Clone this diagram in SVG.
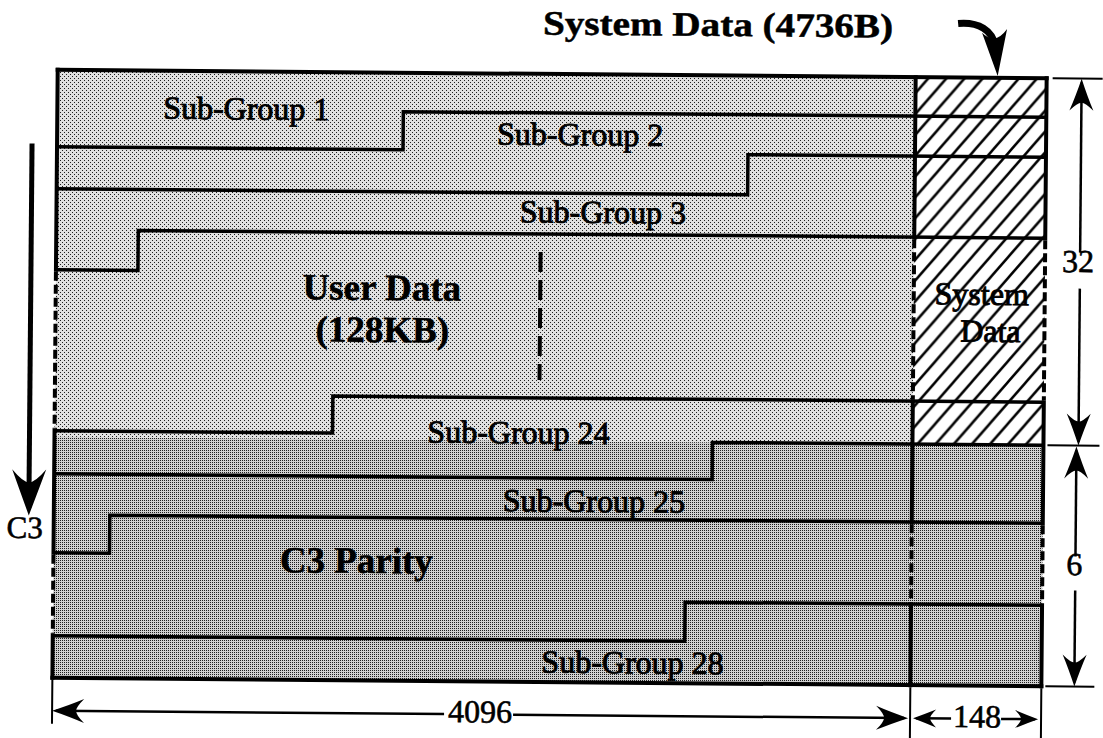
<svg xmlns="http://www.w3.org/2000/svg" width="1103" height="738" viewBox="0 0 1103 738">
<defs>
<style>
.o{fill:none;stroke:#000;stroke-width:4;stroke-linecap:square}
.r{fill:none;stroke:#000;stroke-width:3.5;stroke-linejoin:miter}
.dl{fill:none;stroke:#000;stroke-width:4;stroke-dasharray:9 4}
.dim{fill:none;stroke:#000;stroke-width:2.5}
.ext{fill:none;stroke:#000;stroke-width:2}
.sg{font-family:"Liberation Serif","Times New Roman",serif;font-size:32px;fill:#000;stroke:#000;stroke-width:0.9;text-anchor:middle}
.bt{font-family:"Liberation Serif","Times New Roman",serif;font-weight:bold;font-size:37px;fill:#000;stroke:#000;stroke-width:0.5;text-anchor:middle}
.num{font-family:"Liberation Serif","Times New Roman",serif;font-size:32px;fill:#000;stroke:#000;stroke-width:0.6;text-anchor:middle}
</style>
<pattern id="lt" patternUnits="userSpaceOnUse" width="4" height="4" patternTransform="rotate(-0.5 550 380)">
<rect width="4" height="4" fill="#e0e0e0"/><rect width="1" height="1" fill="#1e1e1e"/><rect x="2" y="2" width="1" height="1" fill="#1e1e1e"/>
</pattern>
<pattern id="dk" patternUnits="userSpaceOnUse" width="2" height="2" patternTransform="rotate(-0.5 550 380)">
<rect width="2" height="2" fill="#d0d0d0"/><rect width="1" height="1" fill="#1e1e1e"/>
</pattern>
<pattern id="hatch" patternUnits="userSpaceOnUse" width="18" height="21">
<rect width="18" height="21" fill="#fff"/>
<path d="M0,21 L18,0 M-3,3.5 L3,-3.5 M15,24.5 L21,17.5" stroke="#000" stroke-width="2.5"/>
</pattern>
<marker id="ah" markerUnits="userSpaceOnUse" markerWidth="40" markerHeight="30" refX="28" refY="12" orient="auto" overflow="visible"><path d="M32,12 Q14,6 0,0 Q8,8 8,12 Q8,16 0,24 Q14,18 32,12 Z" fill="#000"/></marker>
<marker id="ahs" markerUnits="userSpaceOnUse" markerWidth="30" markerHeight="24" refX="20" refY="9" orient="auto" overflow="visible"><path d="M23,9 Q11,4.5 0,0 Q6,6 6,9 Q6,12 0,18 Q11,13.5 23,9 Z" fill="#000"/></marker>
<marker id="ahb" markerUnits="userSpaceOnUse" markerWidth="50" markerHeight="40" refX="38" refY="17" orient="auto" overflow="visible"><path d="M46,17 Q22,8 0,0 Q13,11 13,17 Q13,23 0,34 Q22,26 46,17 Z" fill="#000"/></marker>
</defs>
<rect width="1103" height="738" fill="#fff"/>
<g transform="rotate(0.5 550 380)">
<g id="user-data">
<rect x="55" y="74" width="858" height="367" fill="url(#lt)"/>
<text class="bt" x="381" y="301.5">User Data</text>
<text class="bt" x="382" y="343.5">(128KB)</text>
<line class="dl" x1="539.5" y1="252" x2="539.5" y2="380" style="stroke-dasharray:20 8"/>
</g>
<g id="system-data">
<rect x="913" y="74" width="131" height="367" fill="url(#hatch)"/>
<text class="sg" x="981" y="301">System</text>
<text class="sg" x="990" y="338">Data</text>
</g>
<g id="c3-parity">
<rect x="55" y="441" width="989" height="241" fill="url(#dk)"/>
<text class="bt" x="358" y="574.5">C3 Parity</text>
</g>
<g id="frame">
<path class="o" d="M55,74 H1044"/>
<path class="o" d="M55,682 H1044"/>
<path class="o" d="M55,74 V274 M55,435 V557 M55,640 V682"/>
<path class="dl" d="M55,276 V433 M55,559 V638"/>
<path class="o" d="M913,74 V234 M913,398 V519 M913,601 V682"/>
<path class="dl" d="M913,236 V396 M913,521 V599"/>
<path class="o" d="M1044,74 V234 M1044,398 V519 M1044,601 V682"/>
<path class="dl" d="M1044,236 V396 M1044,521 V599"/>
</g>
<g id="sub-group-1"><path class="r" d="M55,151 H401 V113 H1044"/><text class="sg" x="244" y="122">Sub-Group 1</text></g>
<g id="sub-group-2"><path class="r" d="M55,193 H746 V153 H1044"/><text class="sg" x="578" y="145">Sub-Group 2</text></g>
<g id="sub-group-3"><path class="r" d="M55,274 H137 V234 H1044"/><text class="sg" x="601.5" y="222.5">Sub-Group 3</text></g>
<g id="sub-group-24"><path class="r" d="M55,435 H333 V398 H1044"/><text class="sg" x="519" y="443.5">Sub-Group 24</text></g>
<g id="sub-group-25"><path class="r" d="M55,478 H713 V441 H1044"/><text class="sg" x="595" y="511.5">Sub-Group 25</text></g>
<g id="sub-group-28"><path class="r" d="M55,557 H111 V519 H1044"/><path class="r" d="M55,640 H687 V601 H1044"/><text class="sg" x="635" y="672.5">Sub-Group 28</text></g>
<g id="connectors">
<path class="ext" d="M1050,74 H1100 M1048,441 H1100 M1048,682 H1097"/>
<path class="ext" d="M55,684 V728 M913,684 V738 M1044,684 V735"/>
<line class="dim" x1="1079" y1="248" x2="1079" y2="78" marker-end="url(#ah)"/>
<line class="dim" x1="1079" y1="284" x2="1079" y2="437" marker-end="url(#ah)"/>
<text class="num" x="1077" y="267.5">32</text>
<line class="dim" x1="1077" y1="552" x2="1077" y2="446" marker-end="url(#ah)"/>
<line class="dim" x1="1077" y1="586" x2="1077" y2="678" marker-end="url(#ah)"/>
<text class="num" x="1076" y="570.5">6</text>
<line class="dim" x1="447" y1="715" x2="59" y2="715" marker-end="url(#ah)"/>
<line class="dim" x1="516" y1="715" x2="907" y2="715" marker-end="url(#ah)"/>
<text class="num" x="483" y="723">4096</text>
<line class="dim" x1="954" y1="715" x2="919" y2="715" marker-end="url(#ahs)"/>
<line class="dim" x1="1004" y1="715" x2="1038" y2="715" marker-end="url(#ahs)"/>
<text class="num" x="980" y="723.5">148</text>
<line x1="30" y1="148" x2="30" y2="512" stroke="#000" stroke-width="5" marker-end="url(#ahb)"/>
<text class="num" x="26" y="542.5" style="font-size:31px">C3</text>
<path d="M955,20 C975,18 990,26 993,44" fill="none" stroke="#000" stroke-width="7"/>
<path d="M995,72 L979,29 Q992,42 1004,25 Z" fill="#000"/>
<text x="540" y="34.5" textLength="350" lengthAdjust="spacingAndGlyphs" style="font-family:'Liberation Serif','Times New Roman',serif;font-weight:bold;font-size:34px;fill:#000;stroke:#000;stroke-width:0.5">System Data (4736B)</text>
</g>
</g>
</svg>
